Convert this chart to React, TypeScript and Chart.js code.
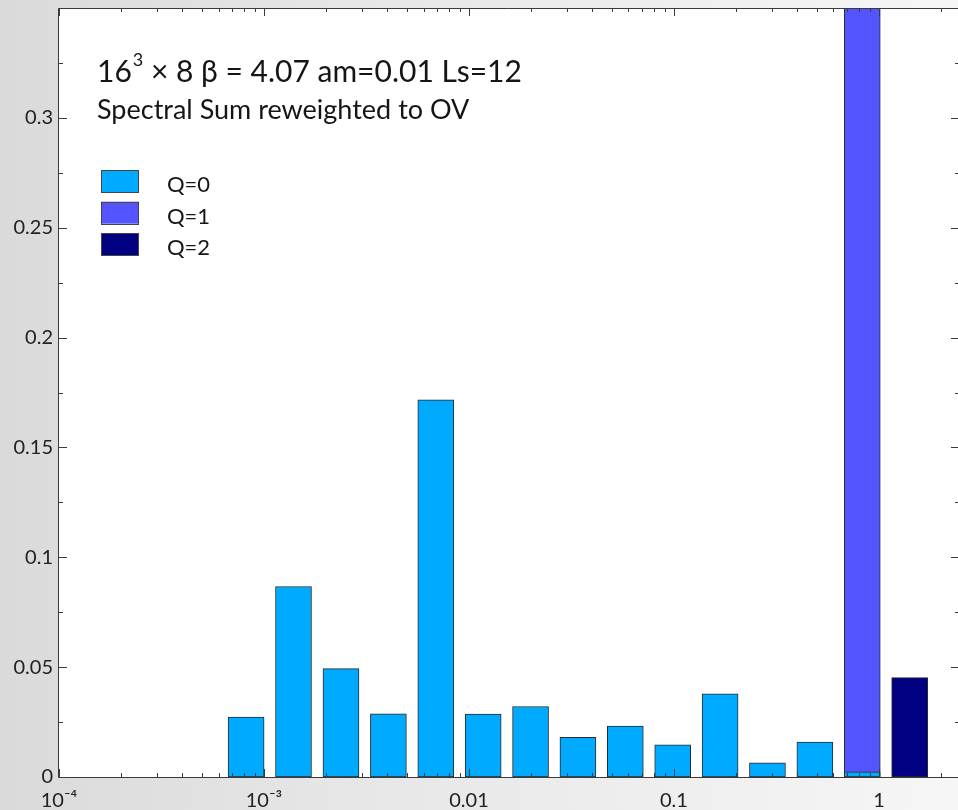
import React, { useEffect, useRef } from 'react';
import { Chart, registerables } from 'chart.js';

Chart.register(...registerables);

// ---- data ----
const q0Centers = [8.18e-4, 1.393e-3, 2.374e-3, 4.045e-3, 6.89e-3, 1.173e-2, 1.997e-2, 3.4e-2, 5.79e-2, 9.86e-2, 0.1679, 0.2858, 0.4868, 0.829];
const q0Values = [0.0273, 0.0867, 0.0493, 0.0288, 0.1717, 0.0286, 0.0321, 0.018, 0.0232, 0.0146, 0.0379, 0.0064, 0.0159, 0.0023];
const q1Centers = [0.829];
const q1Values = [0.62];
const q2Centers = [1.412];
const q2Values = [0.0452];

const seriesNames = ['Q=0', 'Q=1', 'Q=2'];
const seriesColors = ['#00aaff', '#5555ff', '#000080'];

const xMajorTicks = [1e-4, 1e-3, 0.01, 0.1, 1];
const xMajorLabels = ['10\u207B\u2074', '10\u207B\u00B3', '0.01', '0.1', '1'];
const xMinorMantissas = [2, 3, 4, 5, 6, 7, 8, 9];
const yMajorTicks = [0, 0.05, 0.1, 0.15, 0.2, 0.25, 0.3];
const yMajorLabels = ['0', '0.05', '0.1', '0.15', '0.2', '0.25', '0.3'];
const yMinorTicks = [0.025, 0.075, 0.125, 0.175, 0.225, 0.275, 0.325];

const titleMain = ['16', '3', ' \u00D7 8 \u03B2 = 4.07 am=0.01 Ls=12'];
const subtitle = 'Spectral Sum reweighted to OV';

const X_MIN = 1e-4;
const X_MAX = 2.43;
const Y_MIN = 0;
const Y_MAX = 0.35;

const FONT = 'Lato, "DejaVu Sans", sans-serif';

function buildXTicks() {
  const out: { value: number; major: boolean }[] = [];
  for (const m of xMajorTicks) {
    out.push({ value: m, major: true });
    for (const k of xMinorMantissas) {
      const v = m * k;
      if (v <= X_MAX) out.push({ value: v, major: false });
    }
  }
  return out;
}

const frameAndDecor = {
  id: 'frameAndDecor',
  beforeDraw(chart: any) {
    const { ctx, width, height, chartArea } = chart;
    ctx.save();
    const g = ctx.createLinearGradient(0, 0, width, 0);
    g.addColorStop(0, '#dadada');
    g.addColorStop(0.35, '#e6e6e6');
    g.addColorStop(1, '#f6f6f6');
    ctx.fillStyle = g;
    ctx.fillRect(0, 0, width, height);
    ctx.fillStyle = '#ffffff';
    ctx.fillRect(chartArea.left, chartArea.top, chartArea.right - chartArea.left, chartArea.bottom - chartArea.top);
    ctx.restore();
  },
  afterDatasetsDraw(chart: any) {
    const { ctx, chartArea } = chart;
    const xs = chart.scales.x;
    const ys = chart.scales.y;
    const L = chartArea.left, R = chartArea.right + 1, T = chartArea.top, B = chartArea.bottom;
    ctx.save();
    ctx.strokeStyle = '#3a3a3a';
    ctx.lineWidth = 1;
    ctx.beginPath();
    for (const t of buildXTicks()) {
      const px = Math.round(xs.getPixelForValue(t.value)) + 0.5;
      const len = t.major ? 8 : 4;
      ctx.moveTo(px, B);
      ctx.lineTo(px, B - len);
      ctx.moveTo(px, T);
      ctx.lineTo(px, T + len);
    }
    const yt = yMajorTicks.map((v) => ({ v, major: true })).concat(yMinorTicks.map((v) => ({ v, major: false })));
    for (const t of yt) {
      const py = Math.round(ys.getPixelForValue(t.v)) + 0.5;
      const len = t.major ? 8 : 4;
      ctx.moveTo(L, py);
      ctx.lineTo(L + len, py);
      ctx.moveTo(R, py);
      ctx.lineTo(R - len, py);
    }
    // frame: left, bottom, top (right edge lies just outside the canvas)
    const l = Math.round(L) - 0.5, t0 = Math.round(T) + 0.5, b = Math.round(B) + 0.5;
    ctx.moveTo(l, t0);
    ctx.lineTo(l, b);
    ctx.lineTo(R + 2, b);
    ctx.moveTo(l, t0);
    ctx.lineTo(R + 2, t0);
    ctx.stroke();
    ctx.restore();
  },
  afterDraw(chart: any) {
    const { ctx } = chart;
    ctx.save();
    ctx.fillStyle = '#151515';
    ctx.textBaseline = 'alphabetic';
    ctx.textAlign = 'left';
    // main title with superscript
    let x = 97;
    ctx.font = `30px ${FONT}`;
    ctx.fillText(titleMain[0], x, 82);
    x += ctx.measureText(titleMain[0]).width + 1;
    ctx.font = `18px ${FONT}`;
    ctx.fillText(titleMain[1], x, 66);
    x += ctx.measureText(titleMain[1]).width;
    ctx.font = `30px ${FONT}`;
    ctx.fillText(titleMain[2], x, 82);
    // subtitle
    ctx.font = `27px ${FONT}`;
    ctx.fillText(subtitle, 97, 119);
    // legend
    ctx.font = `22px ${FONT}`;
    for (let i = 0; i < seriesNames.length; i++) {
      const top = 170 + i * 31.7;
      ctx.fillStyle = seriesColors[i];
      ctx.fillRect(101, top, 38, 22);
      ctx.strokeStyle = '#444444';
      ctx.lineWidth = 1;
      ctx.strokeRect(101.5, Math.round(top) + 0.5, 37, 22);
      ctx.fillStyle = '#151515';
      ctx.fillText(seriesNames[i], 167, top + 22);
    }
    ctx.restore();
  },
};

function toPoints(xs: number[], ys: number[]) {
  return xs.map((x, i) => ({ x, y: ys[i] }));
}

export default function App() {
  const ref = useRef<HTMLCanvasElement | null>(null);
  useEffect(() => {
    if (!ref.current) return;
    const barCommon = {
      grouped: false,
      borderColor: '#2a2a2a',
      borderWidth: 1,
      borderSkipped: false,
      barThickness: 36,
    };
    const chart = new Chart(ref.current, {
      type: 'bar',
      data: {
        datasets: [
          { label: seriesNames[0], data: toPoints(q0Centers, q0Values), backgroundColor: seriesColors[0], ...barCommon },
          { label: seriesNames[1], data: toPoints(q1Centers, q1Values), backgroundColor: seriesColors[1], ...barCommon },
          { label: seriesNames[2], data: toPoints(q2Centers, q2Values), backgroundColor: seriesColors[2], ...barCommon },
        ] as any,
      },
      options: {
        animation: false,
        responsive: false,
        devicePixelRatio: 1,
        layout: { padding: { top: 8, right: 0, left: 0, bottom: 0 } },
        plugins: { legend: { display: false }, tooltip: { enabled: false }, title: { display: false } },
        scales: {
          x: {
            type: 'logarithmic',
            min: X_MIN,
            max: X_MAX,
            offset: false,
            grid: { display: false, drawTicks: false, tickLength: 0, offset: false },
            border: { display: false },
            afterBuildTicks: (axis: any) => {
              axis.ticks = buildXTicks().map((t) => ({ value: t.value, major: false }));
            },
            afterFit: (axis: any) => {
              axis.height = 33;
              axis.paddingLeft = 0;
              axis.paddingRight = 0;
            },
            ticks: {
              autoSkip: false,
              maxRotation: 0,
              minRotation: 0,
              padding: 12,
              color: '#222222',
              font: { family: FONT, size: 20 },
              callback: (value: any) => {
                const v = Number(value);
                const idx = xMajorTicks.findIndex((m) => Math.abs(v / m - 1) < 1e-6);
                return idx >= 0 ? xMajorLabels[idx] : '';
              },
            },
          },
          y: {
            type: 'linear',
            min: Y_MIN,
            max: Y_MAX,
            grid: { display: false, drawTicks: false, tickLength: 0 },
            border: { display: false },
            afterBuildTicks: (axis: any) => {
              axis.ticks = yMajorTicks.map((v) => ({ value: v }));
            },
            afterFit: (axis: any) => {
              axis.width = 59;
              axis.paddingTop = 0;
              axis.paddingBottom = 0;
            },
            ticks: {
              padding: 6,
              color: '#222222',
              font: { family: FONT, size: 20 },
              callback: (value: any) => {
                const v = Number(value);
                const idx = yMajorTicks.findIndex((m) => Math.abs(v - m) < 1e-9);
                return idx >= 0 ? yMajorLabels[idx] : '';
              },
            },
          },
        },
      } as any,
      plugins: [frameAndDecor],
    });
    return () => chart.destroy();
  }, []);
  return (
    <div style={{ position: 'absolute', left: 0, top: 0, width: 958, height: 810 }}>
      <canvas ref={ref} width={958} height={810} style={{ display: 'block', width: 958, height: 810 }} />
    </div>
  );
}
